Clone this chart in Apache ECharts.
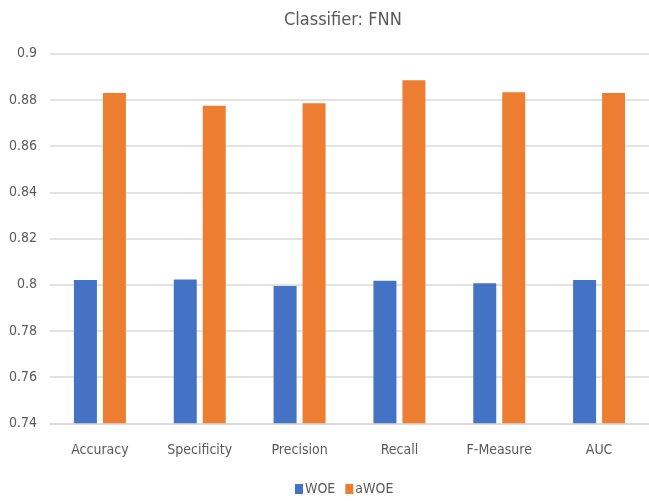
<!DOCTYPE html>
<html>
<head>
<meta charset="utf-8">
<script src="https://cdn.jsdelivr.net/npm/echarts@6/dist/echarts.min.js"></script>
<style>
html,body{margin:0;padding:0;background:#fff;}
#c{width:649px;height:501px;}
</style>
</head>
<body>
<div id="c"></div>
<script>
const categories = ['Accuracy', 'Specificity', 'Precision', 'Recall', 'F-Measure', 'AUC'];
const woe = [0.802, 0.8023, 0.7994, 0.8017, 0.8006, 0.802];
const awoe = [0.883, 0.8775, 0.8786, 0.8885, 0.8833, 0.883];
const seriesNames = ['WOE', 'aWOE'];
const yTicks = { min: 0.74, max: 0.9, interval: 0.02 };

const FONT = '"DejaVu Sans Condensed", "Liberation Sans Narrow", "Liberation Sans", sans-serif';
const chart = echarts.init(document.getElementById('c'), null, { renderer: 'canvas' });
chart.setOption({
  animation: false,
  title: {
    text: 'Classifier: FNN',
    left: 279, top: 6,
    textStyle: { fontFamily: FONT, fontSize: 18, fontWeight: 'normal', color: '#595959' }
  },
  legend: {
    data: seriesNames,
    left: 290, bottom: 0,
    itemWidth: 8, itemHeight: 10, itemGap: 10,
    icon: 'rect',
    textStyle: { fontFamily: FONT, fontSize: 14, color: '#595959', padding: [0, 0, 0, -3] }
  },
  grid: { left: 50, right: -10, top: 53.7, bottom: 77.7, containLabel: false },
  xAxis: {
    type: 'category',
    data: categories,
    axisLine: { lineStyle: { color: '#d9d9d9', width: 1.5 } },
    axisTick: { show: false },
    axisLabel: { fontFamily: FONT, fontSize: 14, color: '#595959', margin: 20 }
  },
  yAxis: {
    type: 'value',
    min: yTicks.min, max: yTicks.max, interval: yTicks.interval,
    axisLine: { show: false },
    axisTick: { show: false },
    splitLine: { lineStyle: { color: '#d9d9d9', width: 1.5 } },
    axisLabel: {
      fontFamily: FONT, fontSize: 14, color: '#595959', margin: 13,
      formatter: v => String(parseFloat(v.toFixed(2)))
    }
  },
  series: [
    { name: seriesNames[0], type: 'bar', data: woe, barWidth: 23, barGap: '26%',
      itemStyle: { color: '#4472C4' } },
    { name: seriesNames[1], type: 'bar', data: awoe, barWidth: 23,
      itemStyle: { color: '#ED7D31' } }
  ]
});
</script>
</body>
</html>
